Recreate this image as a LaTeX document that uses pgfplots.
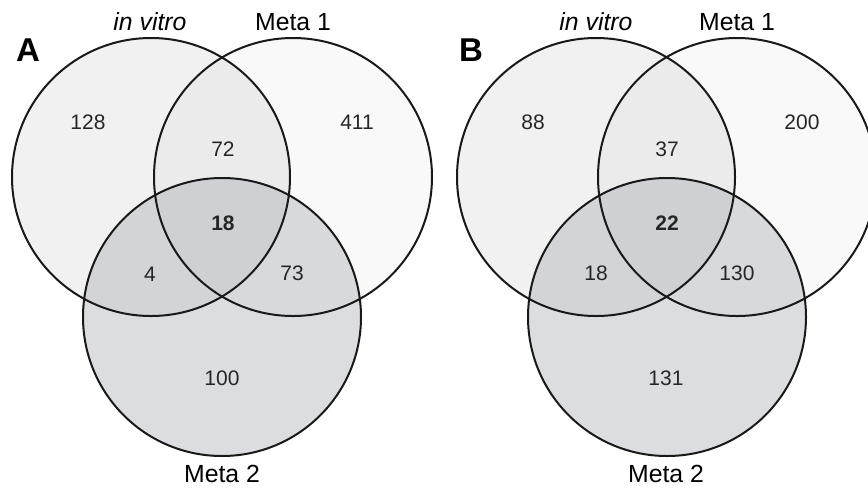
\documentclass[border=0pt]{standalone}
\usepackage{fontspec}
\setmainfont{Liberation Sans}
\usepackage{pgfplots}
\pgfplotsset{compat=1.18}
\usepackage{pgfplotstable}
\definecolor{mtwo}{RGB}{158,161,169}
% circle centres (pixel coordinates, y downward), radius 139
\pgfplotstableread{
x y
151 177
293 177
222 317
596 177
737 177
667 317
}\centres
\pgfplotstableread{
x y label
88 122 128
223 149 72
357 122 411
150 274 4
292 273 73
222 378 100
533 122 88
667 149 37
802 122 200
596 273 18
737 273 130
666 378 131
}\counts
\pgfplotstableread{
x y label
223 223 18
667 223 22
}\core
\begin{document}
\begin{tikzpicture}
\begin{axis}[scale only axis, width=434pt, height=244pt,
  xmin=0, xmax=868, ymin=0, ymax=488, y dir=reverse,
  hide axis, clip=true]
\path (axis cs:0,0) rectangle (axis cs:868,488);
% fills
\foreach \cx in {151,596} {
  \edef\tmp{\noexpand\fill[black, fill opacity=0.055] (axis cs:\cx,177) circle[radius=139];}\tmp
}
\foreach \cx in {293,737} {
  \edef\tmp{\noexpand\fill[black, fill opacity=0.024] (axis cs:\cx,177) circle[radius=139];}\tmp
}
\foreach \cx in {222,667} {
  \edef\tmp{\noexpand\fill[mtwo, fill opacity=0.36] (axis cs:\cx,317) circle[radius=139];}\tmp
}
% outlines
\foreach \cx/\cy in {151/177,293/177,222/317,596/177,737/177,667/317} {
  \edef\tmp{\noexpand\draw[black!90, line width=1pt] (axis cs:\cx,\cy) circle[radius=139];}\tmp
}
\addplot[draw=none, mark=none, nodes near coords, point meta=explicit symbolic,
  nodes near coords style={anchor=center, font=\fontsize{10.5}{12}\selectfont, text=black!85}]
  table[meta=label] {\counts};
\addplot[draw=none, mark=none, nodes near coords, point meta=explicit symbolic,
  nodes near coords style={anchor=center, font=\fontsize{10.5}{12}\selectfont\bfseries, text=black!85}]
  table[meta=label] {\core};
% set labels
\node[font=\fontsize{12.4}{14}\selectfont\itshape] at (axis cs:150,22) {in vitro};
\node[font=\fontsize{12.4}{14}\selectfont] at (axis cs:293,22) {Meta 1};
\node[font=\fontsize{12.4}{14}\selectfont] at (axis cs:222,474) {Meta 2};
\node[font=\fontsize{12.4}{14}\selectfont\itshape] at (axis cs:596,22) {in vitro};
\node[font=\fontsize{12.4}{14}\selectfont] at (axis cs:737,22) {Meta 1};
\node[font=\fontsize{12.4}{14}\selectfont] at (axis cs:666,474) {Meta 2};
\node[font=\fontsize{16.5}{18}\selectfont\bfseries] at (axis cs:28,50) {A};
\node[font=\fontsize{16.5}{18}\selectfont\bfseries] at (axis cs:471,50) {B};
\end{axis}
\end{tikzpicture}
\end{document}
